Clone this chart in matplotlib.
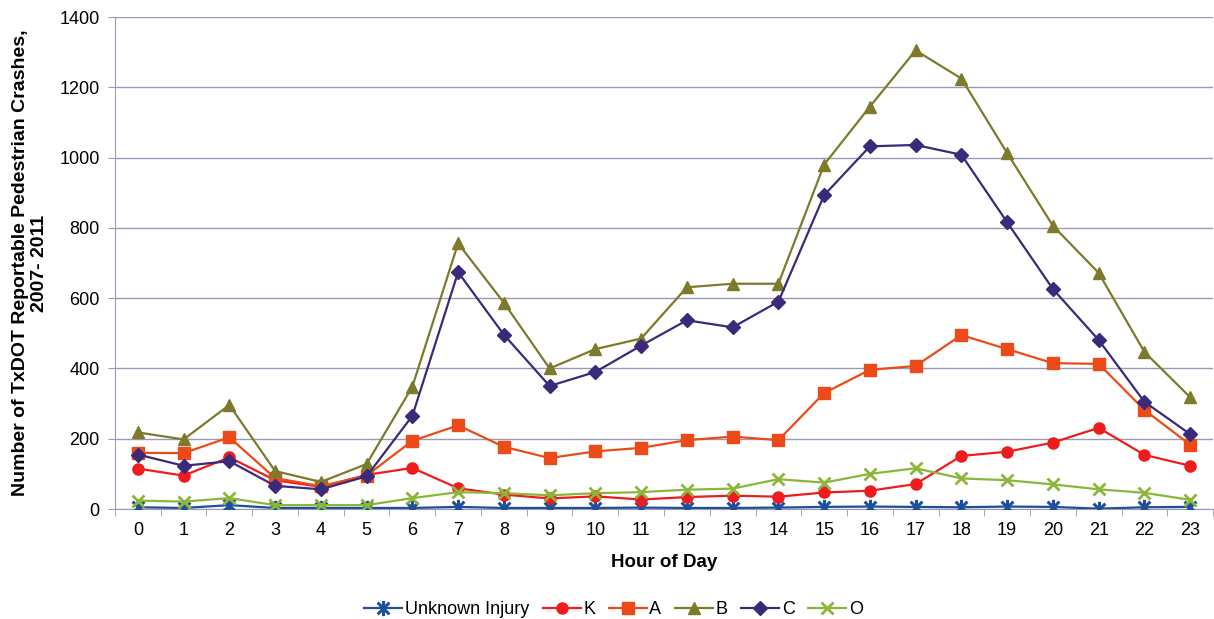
import matplotlib
matplotlib.use("Agg")
import matplotlib.pyplot as plt
from matplotlib.path import Path

plt.rcParams["font.family"] = ["Liberation Sans", "DejaVu Sans"]

# hour of day (categories)
hours = list(range(24))

# crash counts per injury severity
unknown = [5, 3, 11, 3, 3, 3, 3, 6, 3, 3, 3, 4, 3, 3, 4, 6, 7, 6, 5, 7, 6, 1, 5, 6]
k_vals = [115, 95, 147, 82, 63, 97, 117, 59, 41, 30, 36, 27, 34, 38, 35, 47, 52, 71, 151, 163, 189, 231, 154, 123]
a_vals = [160, 159, 204, 88, 65, 95, 194, 238, 177, 145, 164, 174, 196, 206, 196, 330, 396, 407, 495, 455, 415, 413, 282, 183]
b_vals = [218, 198, 296, 108, 77, 128, 348, 756, 587, 400, 455, 485, 631, 641, 641, 980, 1145, 1305, 1225, 1013, 806, 672, 447, 318]
c_vals = [155, 123, 136, 66, 56, 93, 265, 674, 496, 350, 390, 465, 537, 517, 590, 893, 1032, 1036, 1008, 816, 626, 481, 305, 213]
o_vals = [24, 21, 31, 11, 11, 11, 31, 48, 45, 39, 45, 48, 55, 58, 85, 75, 100, 116, 87, 82, 70, 56, 46, 26]

# asterisk marker like the Excel "star"
star = Path([(-1, -1), (1, 1), (-1, 1), (1, -1), (0, -1.3), (0, 1.3)],
            [Path.MOVETO, Path.LINETO, Path.MOVETO, Path.LINETO, Path.MOVETO, Path.LINETO])

fig = plt.figure(figsize=(12.14, 6.19), dpi=100)
ax = fig.add_axes([0.0947, 0.1777, 0.9045, 0.7948])

lw = 1.6
ax.plot(hours, unknown, color="#1f4e9a", lw=lw, marker=star, ms=11, mew=2.2, label="Unknown Injury", zorder=3)
ax.plot(hours, k_vals, color="#ee1c1c", lw=lw, marker="o", ms=8, label="K", zorder=3)
ax.plot(hours, a_vals, color="#ec4a18", lw=lw, marker="s", ms=8, label="A", zorder=3)
ax.plot(hours, b_vals, color="#7d7a2c", lw=lw, marker="^", ms=9, label="B", zorder=3)
ax.plot(hours, c_vals, color="#3b2a7a", lw=lw, marker="D", ms=7, label="C", zorder=3)
ax.plot(hours, o_vals, color="#8cb63a", lw=lw, marker="x", ms=9, mew=2, label="O", zorder=3)

ax.set_xlim(-0.5, 23.5)
ax.set_ylim(0, 1400)
ax.set_yticks(range(0, 1401, 200))
ax.set_xticks(hours)
ax.set_xticks([h - 0.5 for h in hours] + [23.5], minor=True)
ax.tick_params(axis="x", which="major", length=0, labelsize=13, pad=9)
ax.tick_params(axis="x", which="minor", length=5, color="#9a9ab8", direction="out")
ax.tick_params(axis="y", length=5, color="#9a9ab8", labelsize=13, pad=6)

ax.grid(axis="y", color="#9a9ab8", lw=1)
ax.set_axisbelow(True)
for s in ["top", "right"]:
    ax.spines[s].set_visible(False)
ax.spines["left"].set_color("#9a9ab8")
ax.spines["bottom"].set_color("#9a9ab8")

ax.set_xlabel("Hour of Day", fontsize=13.5, fontweight="bold", labelpad=11)
ax.set_ylabel("Number of TxDOT Reportable Pedestrian Crashes,\n2007- 2011", fontsize=14,
              fontweight="bold", labelpad=8, linespacing=1.15)

ax.legend(loc="center", bbox_to_anchor=(0.454, -0.205), ncol=6, frameon=False,
          fontsize=13, handlelength=2.1, handletextpad=0.15, columnspacing=0.75)

fig.savefig("out.png", dpi=100)
